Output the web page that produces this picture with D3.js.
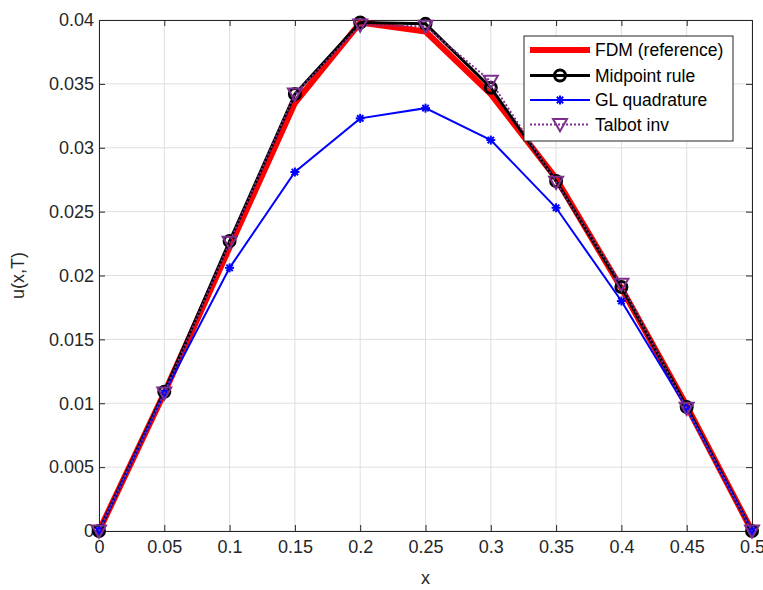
<!DOCTYPE html>
<html>
<head>
<meta charset="utf-8">
<script src="https://cdn.jsdelivr.net/npm/d3@7"></script>
<style>
body { margin: 0; background: #fff; }
text { font-family: "Liberation Sans", Arial, sans-serif; fill: #262626; }
</style>
</head>
<body>
<script>
var xs = [0, 0.05, 0.1, 0.15, 0.2, 0.25, 0.3, 0.35, 0.4, 0.45, 0.5];
var fdm = [0, 0.0108, 0.0222, 0.0335, 0.0398, 0.0391, 0.0342, 0.0276, 0.0190, 0.0098, 0];
var midpoint = [0, 0.0109, 0.0227, 0.0342, 0.0398, 0.0397, 0.0347, 0.0274, 0.0191, 0.0097, 0];
var glquad = [0, 0.0108, 0.0206, 0.0281, 0.0323, 0.0331, 0.0306, 0.0253, 0.0180, 0.0096, 0];
var talbot = [0, 0.0108, 0.0226, 0.0342, 0.0396, 0.0395, 0.0352, 0.0273, 0.0193, 0.0096, 0];
var xTicks = [0, 0.05, 0.1, 0.15, 0.2, 0.25, 0.3, 0.35, 0.4, 0.45, 0.5];
var yTicks = [0, 0.005, 0.01, 0.015, 0.02, 0.025, 0.03, 0.035, 0.04];
var names = ["FDM (reference)", "Midpoint rule", "GL quadrature", "Talbot inv"];

var w = 763, h = 590;
var mLeft = 99, mRight = 752, mTop = 20, mBottom = 531;

var svg = d3.select("body").append("svg")
    .attr("width", w)
    .attr("height", h);

var x = d3.scaleLinear().domain([0, 0.5]).range([mLeft, mRight]);
var y = d3.scaleLinear().domain([0, 0.04]).range([mBottom, mTop]);

// grid
svg.append("g").selectAll("line").data(xTicks).enter().append("line")
    .attr("x1", d => x(d)).attr("x2", d => x(d))
    .attr("y1", mTop).attr("y2", mBottom)
    .style("stroke", "#dfdfdf").style("stroke-width", 1);
svg.append("g").selectAll("line").data(yTicks).enter().append("line")
    .attr("x1", mLeft).attr("x2", mRight)
    .attr("y1", d => y(d)).attr("y2", d => y(d))
    .style("stroke", "#dfdfdf").style("stroke-width", 1);

// axes
var fmt = d3.format("");
var xAxis = svg.append("g").attr("transform", "translate(0," + mBottom + ")")
    .call(d3.axisBottom(x).tickValues(xTicks).tickSize(-6).tickPadding(9).tickFormat(d => fmt(d)));
var xAxisTop = svg.append("g").attr("transform", "translate(0," + mTop + ")")
    .call(d3.axisTop(x).tickValues(xTicks).tickSize(-6).tickFormat(""));
var yAxis = svg.append("g").attr("transform", "translate(" + mLeft + ",0)")
    .call(d3.axisLeft(y).tickValues(yTicks).tickSize(-6).tickPadding(5).tickFormat(d => fmt(d)));
var yAxisRight = svg.append("g").attr("transform", "translate(" + mRight + ",0)")
    .call(d3.axisRight(y).tickValues(yTicks).tickSize(-6).tickFormat(""));

[xAxis, xAxisTop, yAxis, yAxisRight].forEach(function(a) {
    a.select(".domain").style("stroke", "#262626");
    a.selectAll(".tick line").style("stroke", "#262626");
    a.selectAll("text").style("font-size", "18px").style("fill", "#262626")
        .style("font-family", "'Liberation Sans', Arial, sans-serif");
});

svg.append("text").attr("x", (mLeft + mRight) / 2).attr("y", 584)
    .attr("text-anchor", "middle").style("font-size", "18px").text("x");
svg.append("text")
    .attr("transform", "translate(24," + ((mTop + mBottom) / 2) + ") rotate(-90)")
    .attr("text-anchor", "middle").style("font-size", "18px").text("u(x,T)");

var line = d3.line().x((d, i) => x(xs[i])).y(d => y(d));

function drawCircle(g, cx, cy) {
    g.append("circle").attr("cx", cx).attr("cy", cy).attr("r", 5.5)
        .style("fill", "none").style("stroke", "#000").style("stroke-width", 3);
}
function drawStar(g, cx, cy) {
    var r = 4.5;
    [0, 45, 90, 135].forEach(function(a) {
        var rad = a * Math.PI / 180;
        g.append("line")
            .attr("x1", cx - r * Math.cos(rad)).attr("y1", cy - r * Math.sin(rad))
            .attr("x2", cx + r * Math.cos(rad)).attr("y2", cy + r * Math.sin(rad))
            .style("stroke", "#0000ff").style("stroke-width", 2);
    });
}
function drawTri(g, cx, cy) {
    var s = 7;
    g.append("path")
        .attr("d", "M" + (cx - s) + "," + (cy - s * 0.8) + "L" + (cx + s) + "," + (cy - s * 0.8) + "L" + cx + "," + (cy + s * 0.95) + "Z")
        .style("fill", "none").style("stroke", "#7e2f8e").style("stroke-width", 2);
}

// FDM
svg.append("path").datum(fdm).attr("d", line)
    .style("fill", "none").style("stroke", "#ff0000").style("stroke-width", 6).style("stroke-linejoin", "round");
// Midpoint
svg.append("path").datum(midpoint).attr("d", line)
    .style("fill", "none").style("stroke", "#000").style("stroke-width", 3);
var gm = svg.append("g");
midpoint.forEach(function(d, i) { drawCircle(gm, x(xs[i]), y(d)); });
// GL
svg.append("path").datum(glquad).attr("d", line)
    .style("fill", "none").style("stroke", "#0000ff").style("stroke-width", 2);
var gg = svg.append("g");
glquad.forEach(function(d, i) { drawStar(gg, x(xs[i]), y(d)); });
// Talbot
svg.append("path").datum(talbot).attr("d", line)
    .style("fill", "none").style("stroke", "#7e2f8e").style("stroke-width", 2).style("stroke-dasharray", "2,2");
var gt = svg.append("g");
talbot.forEach(function(d, i) { drawTri(gt, x(xs[i]), y(d)); });

// legend
var lg = svg.append("g");
lg.append("rect").attr("x", 524).attr("y", 36).attr("width", 209).attr("height", 105)
    .style("fill", "#fff").style("stroke", "#262626").style("stroke-width", 1);
var rows = [50, 75.5, 100, 124.5];
var lx1 = 530, lx2 = 590, lmid = 560;
lg.append("line").attr("x1", lx1).attr("x2", lx2).attr("y1", rows[0]).attr("y2", rows[0])
    .style("stroke", "#ff0000").style("stroke-width", 6);
lg.append("line").attr("x1", lx1).attr("x2", lx2).attr("y1", rows[1]).attr("y2", rows[1])
    .style("stroke", "#000").style("stroke-width", 3);
drawCircle(lg, lmid, rows[1]);
lg.append("line").attr("x1", lx1).attr("x2", lx2).attr("y1", rows[2]).attr("y2", rows[2])
    .style("stroke", "#0000ff").style("stroke-width", 2);
drawStar(lg, lmid, rows[2]);
lg.append("line").attr("x1", lx1).attr("x2", lx2).attr("y1", rows[3]).attr("y2", rows[3])
    .style("stroke", "#7e2f8e").style("stroke-width", 2).style("stroke-dasharray", "2,2");
drawTri(lg, lmid, rows[3]);
lg.selectAll("text.lab").data(names).enter().append("text").attr("class", "lab")
    .attr("x", 595).attr("y", (d, i) => rows[i] + 6)
    .style("font-size", "17.5px").style("fill", "#000").text(d => d);
</script>
</body>
</html>
